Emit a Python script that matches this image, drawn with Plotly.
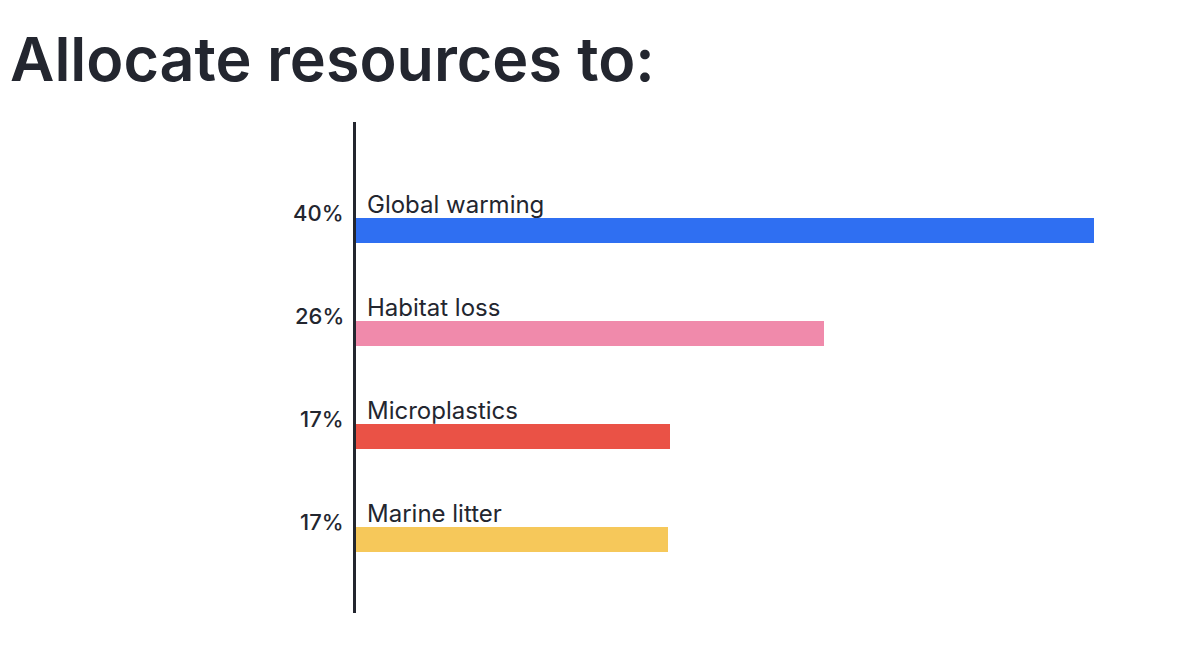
import plotly.graph_objects as go

categories = ["Global warming", "Habitat loss", "Microplastics", "Marine litter"]
values = [40.4, 25.6, 17.2, 17.1]
pct_labels = ["40%", "26%", "17%", "17%"]
colors = ["#2F6FF2", "#F08AAB", "#EA5246", "#F6C85A"]

positions = list(range(len(categories)))
TEXT = "#23262F"
FONT = "Inter"

fig = go.Figure()
fig.add_trace(go.Bar(
    x=values, y=positions, orientation="h",
    marker=dict(color=colors, line=dict(width=0)),
    width=0.245, hoverinfo="skip",
))

for p, cat, pct in zip(positions, categories, pct_labels):
    fig.add_annotation(x=0, y=p, text=cat, showarrow=False,
                       xanchor="left", yanchor="bottom", xshift=9, yshift=9,
                       font=dict(family=FONT, size=24, color=TEXT))
    fig.add_annotation(x=0, y=p, text=pct, showarrow=False,
                       xanchor="right", yanchor="middle", xshift=-10, yshift=17,
                       font=dict(family=FONT, size=22, color=TEXT, weight=500))

fig.add_annotation(xref="paper", yref="paper", x=-348 / 800, y=1, xanchor="left", yanchor="bottom",
                   yshift=24,
                   text="Allocate resources to:", showarrow=False,
                   font=dict(family=FONT, size=61, color=TEXT, weight=600))

fig.update_xaxes(range=[0, 43.8], visible=False, showgrid=False, zeroline=False)
fig.update_yaxes(range=[3.714, -1.053], showline=True, linecolor=TEXT, linewidth=3,
                 showticklabels=False, ticks="", showgrid=False, zeroline=False)

fig.update_layout(
    width=1200, height=657,
    margin=dict(l=348, r=52, t=114, b=52),
    plot_bgcolor="white", paper_bgcolor="white",
    showlegend=False, bargap=0,
)

fig.write_html("out.html")
